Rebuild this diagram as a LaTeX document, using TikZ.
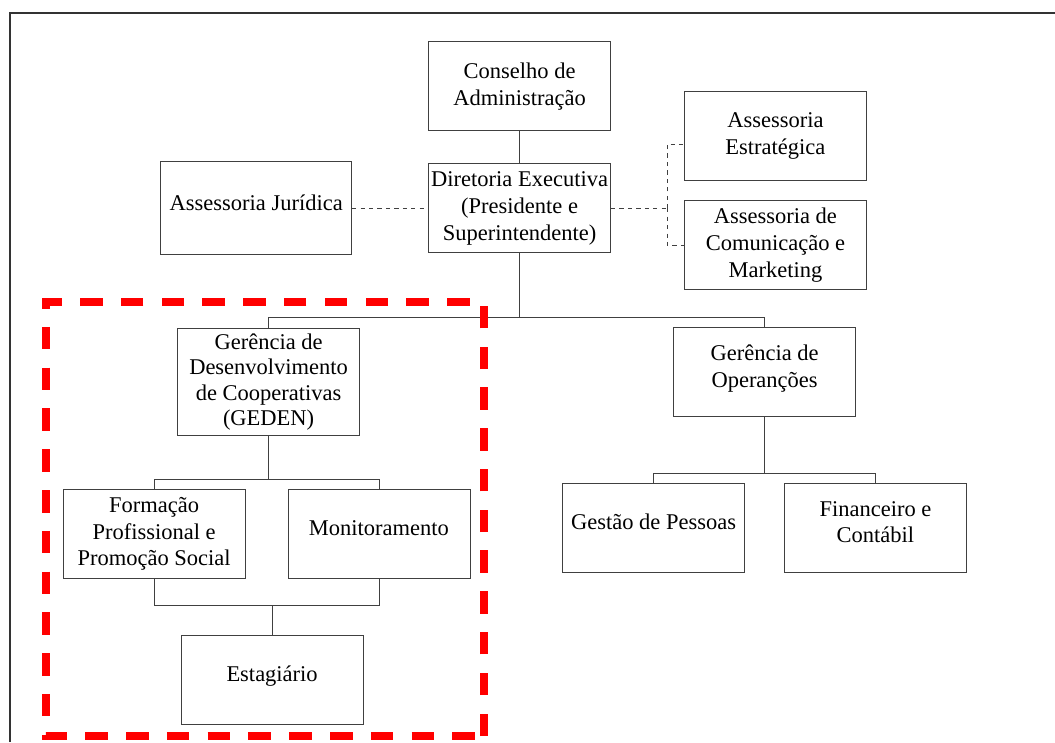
\documentclass[tikz,border=0pt]{standalone}
\usepackage{fontspec}
\setmainfont{Liberation Serif}
\usetikzlibrary{positioning}

\begin{document}
\begin{tikzpicture}[
    orgbox/.style={rectangle, draw=black!75, line width=0.6pt, minimum height=2.225cm, minimum width=4.55cm, inner sep=1pt, align=center, font=\fontsize{16}{19}\selectfont},
    raised/.style={text depth=0.3cm},
    link/.style={draw=black!75, line width=0.6pt},
    highlight/.style={red, line width=5pt, dash pattern=on 16pt off 13pt}
]
\useasboundingbox (0,0) rectangle (26.375,-18.55);

% Frame
\draw[black!80, line width=0.8pt] (0.25,-18.55) -- (0.25,-0.325) -- (26.375,-0.325);

% Nodes
\node[orgbox]      (conselho)    at (12.99,-2.16)                          {Conselho de\\Administração};
\node[orgbox]      (diretoria)   [below=0.8cm of conselho]                 {Diretoria Executiva\\(Presidente e\\Superintendente)};
\node[orgbox, raised, minimum width=4.775cm, minimum height=2.325cm]      (juridica)    [left=1.9cm of diretoria]      {Assessoria Jurídica};
\node[orgbox]      (estrategica) [right=1.825cm of diretoria, yshift=1.8cm] {Assessoria\\Estratégica};
\node[orgbox]      (comunicacao) [below=0.475cm of estrategica]            {Assessoria de\\Comunicação e\\Marketing};
\node[orgbox, minimum height=2.675cm, font=\fontsize{16}{18}\selectfont]      (geden)       [below=1.875cm of diretoria, xshift=-6.275cm]  {Gerência de\\Desenvolvimento\\de Cooperativas\\(GEDEN)};
\node[orgbox, raised]      (operacoes)   [below=1.85cm of diretoria, xshift=6.125cm]  {Gerência de\\Operanções};
\node[orgbox]      (formacao)    [below=1.325cm of geden, xshift=-2.8625cm]  {Formação\\Profissional e\\Promoção Social};
\node[orgbox, raised]      (monitor)     [right=1.05cm of formacao]                {Monitoramento};
\node[orgbox, raised]      (estagiario)  [below=1.4cm of formacao, xshift=2.95cm]   {Estagiário};
\node[orgbox, raised]      (pessoas)     [below=1.65cm of operacoes, xshift=-2.775cm] {Gestão de Pessoas};
\node[orgbox, raised]      (financeiro)  [right=0.975cm of pessoas]                {Financeiro e\\Contábil};

% Lines
\draw[link] (conselho) -- (diretoria);
\coordinate (busdir) at ([yshift=-1.6cm]diretoria.south);
\draw[link] (diretoria) -- (busdir);
\draw[link] (busdir) -| (geden.north);
\draw[link] (busdir) -| (operacoes.north);

\coordinate (busgeden) at ([yshift=-1.075cm]geden.south);
\draw[link] (geden) -- (busgeden);
\draw[link] (busgeden) -| (formacao.north);
\draw[link] (busgeden) -| (monitor.north);
\coordinate (busestag) at ([yshift=-0.675cm]formacao.south);
\draw[link] (formacao.south) -- (busestag) -| (monitor.south);
\draw[link] (estagiario) -- (estagiario.north |- busestag);

\coordinate (busoper) at ([yshift=-1.4cm]operacoes.south);
\draw[link] (operacoes) -- (busoper);
\draw[link] (busoper) -| (pessoas.north);
\draw[link] (busoper) -| (financeiro.north);

% Staff (dashed)
\draw[link, dashed] (juridica.east) -- (juridica.east -| diretoria.west);
\coordinate (staff) at ([xshift=1.4cm]diretoria.east);
\draw[link, dashed] (diretoria.east) -- (staff);
\draw[link, dashed] (staff) |- ([yshift=-0.2cm]estrategica.west);
\draw[link, dashed] (staff) |- (comunicacao.west);

% Highlight
\draw[highlight] (12.1,-18.4) rectangle (1.15,-7.55);

\end{tikzpicture}
\end{document}
